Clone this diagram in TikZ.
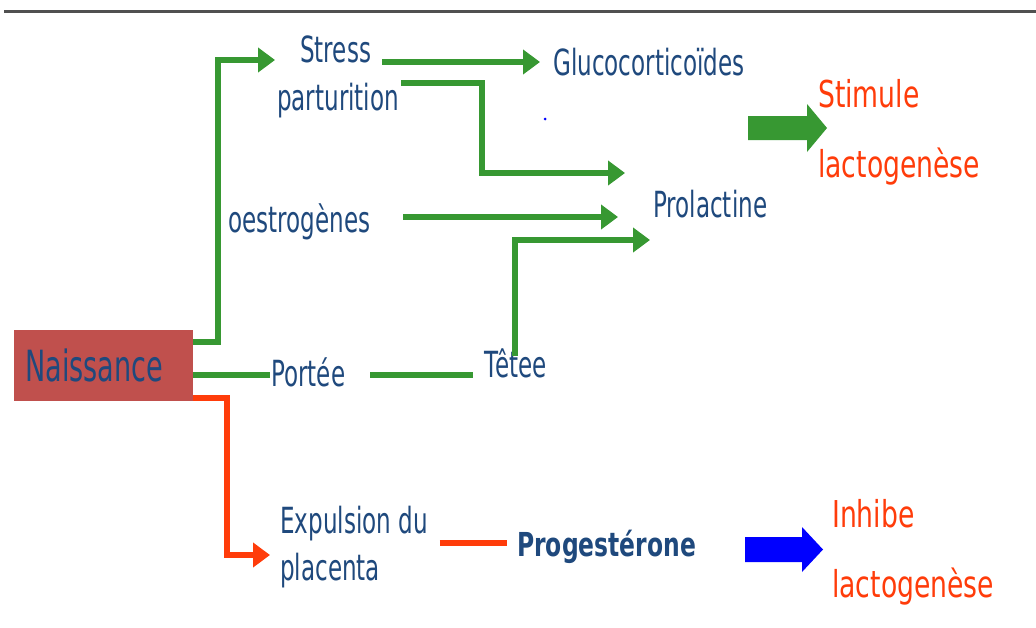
\documentclass[tikz,border=0pt]{standalone}
\usepackage{fontspec}
\setmainfont{DejaVu Sans}
\newfontfamily\bluefont[FakeStretch=0.64]{DejaVu Sans}
\newfontfamily\redfont[FakeStretch=0.72]{DejaVu Sans}
\newfontfamily\naisfont[FakeStretch=0.63]{DejaVu Sans}
\newfontfamily\progfont[FakeStretch=0.71]{DejaVu Sans}
\usetikzlibrary{arrows.meta}
\definecolor{txtblue}{RGB}{31,73,125}
\definecolor{lgreen}{RGB}{55,152,50}
\definecolor{lred}{RGB}{255,60,10}
\definecolor{boxred}{RGB}{192,80,77}
\definecolor{pureblue}{RGB}{0,0,255}
\definecolor{rulegray}{RGB}{80,80,80}
\tikzset{
  txt/.style={text=txtblue, font=\bluefont\fontsize{36}{40}\selectfont, inner sep=0pt, anchor=base west},
  redtxt/.style={text=lred, font=\redfont\fontsize{37}{40}\selectfont, inner sep=0pt, anchor=base west},
  progtxt/.style={text=txtblue, font=\progfont\bfseries\fontsize{33}{38}\selectfont, inner sep=0pt, anchor=base west},
  naisbox/.style={fill=boxred, minimum width=179pt, minimum height=71pt, inner xsep=11pt, inner ysep=0pt,
     text width=157pt, align=left, text=txtblue, font=\naisfont\fontsize{43}{46}\selectfont, anchor=north west},
  gline/.style={draw=lgreen, line width=6pt},
  garrow/.style={gline, -{Triangle[length=17pt,width=24pt]}},
  rline/.style={draw=lred, line width=6pt},
  rarrow/.style={rline, -{Triangle[length=17pt,width=24pt]}},
}
\begin{document}
\begin{tikzpicture}[x=1pt,y=-1pt]
\useasboundingbox (0,0) rectangle (1036,627);
\fill[white] (0,0) rectangle (1036,627);
% top rule
\draw[rulegray, line width=3pt] (4,11.5) -- (1036,11.5);

% nodes
\node[naisbox] (nais) at (14,330) {Naissance};
\node[txt] (stress) at (300,62) {Stress};
\node[txt] (partu) at (277,110) {parturition};
\node[txt] (gluco) at (553,75) {Glucocorticoïdes};
\node[txt] (prol) at (653,217) {Prolactine};
\node[txt] (oestro) at (228,232) {oestrogènes};
\node[txt] (portee) at (271,386) {Portée};
\node[txt] (tetee) at (484,377) {Têtee};
\node[txt] (expul) at (280,533) {Expulsion du};
\node[txt] (placenta) at (280,580) {placenta};
\node[progtxt] (proge) at (517,556) {Progestérone};
\node[redtxt] (stim) at (818,107) {Stimule};
\node[redtxt] (lacto1) at (818,177) {lactogenèse};
\node[redtxt] (inhib) at (832,527) {Inhibe};
\node[redtxt] (lacto2) at (832,597) {lactogenèse};

% connectors
\draw[garrow] ([yshift=-12pt]nais.north east) -- ++(25,0) |- ([xshift=-25pt,yshift=2pt]stress.base west);
\draw[garrow, shorten >=13pt] (382,62) -- (stress.base east -| gluco.west);
\draw[garrow] ([xshift=2pt,yshift=27pt]partu.base east) -- (482,83) |- ([xshift=-28pt,yshift=44pt]prol.base west);
\draw[garrow] ([xshift=33pt,yshift=15pt]oestro.base east) -- ([xshift=-35pt]prol.base west);
\draw[garrow] ([yshift=-8pt]tetee.north) |- ([xshift=-3pt,yshift=-23pt]prol.base west);
\draw[gline] ([yshift=-45pt]nais.north east) -- ([xshift=-1pt,yshift=11pt]portee.base west);
\draw[gline] ([xshift=25pt,yshift=11pt]portee.base east) -- ([xshift=-11pt,yshift=2pt]tetee.base west);
\draw[rarrow] ([yshift=3pt]nais.south east) -- ++(34,0) |- ([xshift=-10pt,yshift=-22pt]expul.base west);
\draw[rline] ([xshift=12pt,yshift=-10pt]expul.base east) -- ([xshift=-10pt,yshift=13pt]proge.base west);

% block arrows
\fill[lgreen] (748,116) -- (807,116) -- (807,104) -- (827,128) -- (807,152) -- (807,140) -- (748,140) -- cycle;
\fill[pureblue] (745,537) -- (802,537) -- (802,527) -- (823,549.5) -- (802,572) -- (802,562) -- (745,562) -- cycle;

% stray dot
\fill[pureblue] (545,119) circle (1.5);
\end{tikzpicture}
\end{document}
